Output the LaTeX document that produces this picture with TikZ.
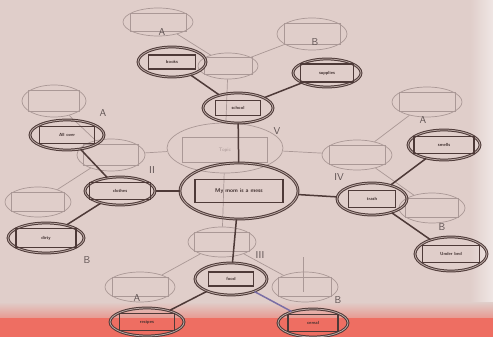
\documentclass[tikz,border=0pt]{standalone}
\usetikzlibrary{shapes.geometric}
\definecolor{bg}{RGB}{224,206,202}
\definecolor{tgray}{RGB}{170,152,150}
\definecolor{dk}{RGB}{78,58,56}
\definecolor{redb}{RGB}{238,110,98}
\definecolor{purp}{RGB}{122,110,165}
\definecolor{labc}{RGB}{92,80,80}
\newcommand{\tmplnode}[5]{%
  \node[tmpl, minimum width={2*#4}, minimum height={2*#5}] (#1) at (#2,#3) {};
  \node[tbox, minimum width={1.6*#4}, minimum height={1.3*#5}] (#1r) at (#2,#3) {};}
\newcommand{\dknode}[8]{%
  \node[dkell, minimum width={2*#4}, minimum height={2*#5}] (#1) at (#2,#3) {};
  \node[dbox, minimum width=#6, minimum height=#7] (#1r) at (#2,#3) {#8};}
\begin{document}
\begin{tikzpicture}[x=1pt,y=-1pt,
  tmpl/.style={ellipse, draw=tgray, line width=0.7pt, inner sep=0pt},
  tbox/.style={rectangle, draw=tgray, line width=0.7pt, inner sep=0pt},
  dkell/.style={ellipse, draw=dk, line width=1pt, double=bg!75!dk, double distance=0.8pt, inner sep=0pt},
  dbox/.style={rectangle, draw=dk, line width=1.1pt, inner sep=0pt, text=dk!80!black, font=\sffamily\bfseries\fontsize{4.5}{5}\selectfont},
  tline/.style={draw=tgray, line width=0.7pt},
  dline/.style={draw=dk, line width=1.5pt},
  lab/.style={text=labc, inner sep=0pt, font=\sffamily\fontsize{10}{10}\selectfont}]
\useasboundingbox (0,0) rectangle (493,337);
\fill[bg] (0,0) rectangle (493,337);
\shade[left color=bg, right color=white!50!bg] (470,0) rectangle (493,318);
\shade[top color=bg, bottom color=redb!55!bg] (0,302) rectangle (493,318);
\fill[redb] (0,318) rectangle (493,337);
% ---------- template layer (grey) ----------
\tmplnode{tA}{158}{22}{35}{14}
\tmplnode{tB}{312}{34}{35}{16}
\tmplnode{tS}{228}{66}{30}{13}
\node[tmpl, minimum width=116, minimum height=50] (tT) at (225,148) {};
\node[tbox, minimum width=85, minimum height=25, text=tgray, font=\sffamily\fontsize{5}{5}\selectfont] (tTr) at (225,150) {Topic};
\tmplnode{tLA}{54}{101}{32}{16}
\tmplnode{tII}{111}{155}{34}{16}
\tmplnode{tLB}{38}{202}{33}{15}
\tmplnode{tRA}{427}{102}{35}{15}
\tmplnode{tIV}{357}{155}{35}{15}
\tmplnode{tRB}{432}{208}{33}{15}
\tmplnode{tIII}{222}{242}{34}{15}
\tmplnode{tBA}{140}{287}{35}{15}
\tmplnode{tBB}{305}{287}{33}{15}
\draw[tline] (tA) -- (tS);
\draw[tline] (tB) -- (tS);
\draw[tline] (tS) -- (tT);
\draw[tline] (tT) -- (tII);
\draw[tline] (tT) -- (tIV);
\draw[tline] (tT) -- (tIII);
\draw[tline] (tII) -- (tLA);
\draw[tline] (tII) -- (tLB);
\draw[tline] (tIV) -- (tRA);
\draw[tline] (tIV) -- (tRB);
\draw[tline] (tIII) -- (tBA);
\draw[tline] (tIII) -- (tBB);
\coordinate (vt) at (303,257);
\coordinate (vb) at (303,292);
\draw[tline, line width=0.5pt] (vt) -- (vb);
% ---------- labels ----------
\node[lab] (lA1) at (162,32) {A};
\node[lab] (lB1) at (315,42) {B};
\node[lab] (lA2) at (103,113) {A};
\node[lab] (lB2) at (87,260) {B};
\node[lab] (lA3) at (423,120) {A};
\node[lab] (lB3) at (442,227) {B};
\node[lab] (lA4) at (137,298) {A};
\node[lab] (lB4) at (338,300) {B};
\node[lab] (rV) at (277,131) {V};
\node[lab] (rII) at (152,170) {II};
\node[lab] (rIV) at (339,177) {IV};
\node[lab] (rIII) at (260,255) {III};
% ---------- overlay layer (dark) ----------
\node[dkell, minimum width=118, minimum height=56] (main) at (239,191) {};
\node[dbox, minimum width=88, minimum height=23, font=\sffamily\bfseries\fontsize{5.5}{6}\selectfont] (mainr) at (239,191) {My mom is a mess};
\dknode{books}{172}{62}{34}{15}{47}{14}{books}
\dknode{school}{238}{108}{35}{15}{45}{15}{school}
\dknode{supplies}{327}{73}{34}{14}{53}{18}{supplies}
\dknode{allover}{67}{135}{37}{15}{55}{17}{All over}
\dknode{clothes}{120}{191}{35}{14}{61}{17}{clothes}
\dknode{dirty}{46}{238}{38}{15}{60}{19}{dirty}
\dknode{smells}{444}{145}{36}{15}{60}{17}{smells}
\dknode{trash}{372}{199}{35}{16}{47}{17}{trash}
\dknode{underbed}{451}{254}{36}{17}{57}{17}{Under bed}
\dknode{food}{231}{279}{36}{16}{45}{14}{food}
\dknode{recipes}{147}{322}{37}{14}{55}{17}{recipes}
\dknode{cereal}{313}{323}{35}{14}{50}{17}{cereal}
\draw[dline] (books) -- (school);
\draw[dline] (supplies) -- (school);
\draw[dline] (school) -- (main);
\draw[dline] (main) -- (clothes);
\draw[dline] (main) -- (trash);
\draw[dline] (main) -- (food);
\draw[dline] (allover) -- (clothes);
\draw[dline] (dirty) -- (clothes);
\draw[dline] (trash) -- (smells);
\draw[dline] (trash) -- (underbed);
\draw[dline] (food) -- (recipes);
\draw[dline, draw=purp] (food) -- (cereal);
\end{tikzpicture}
\end{document}
